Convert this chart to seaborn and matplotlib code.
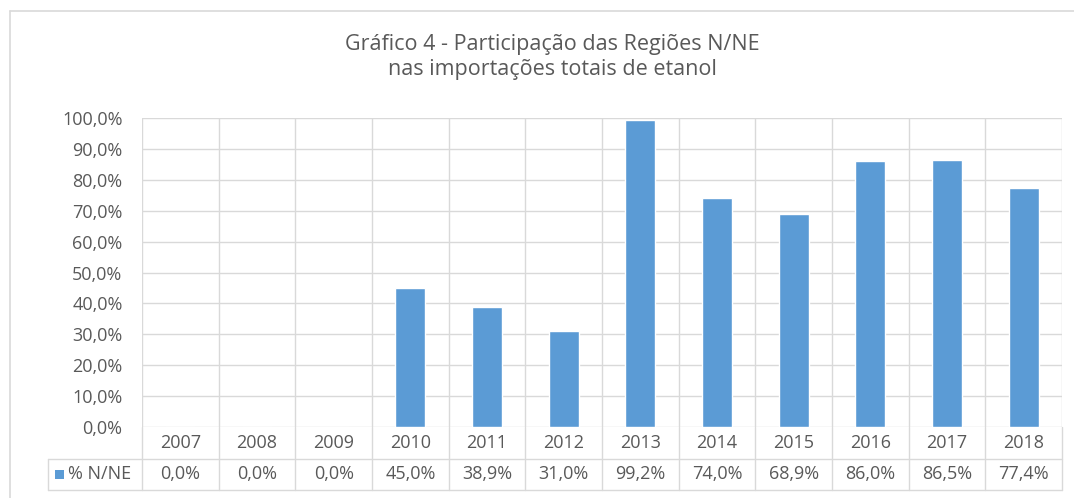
import numpy as np
import pandas as pd
import matplotlib
matplotlib.use("Agg")
import matplotlib.pyplot as plt
import seaborn as sns
from matplotlib.lines import Line2D
from matplotlib.patches import Rectangle

sns.set_style("white")
plt.rcParams['font.family'] = ['Open Sans', 'DejaVu Sans']

# data
years = ["2007", "2008", "2009", "2010", "2011", "2012",
         "2013", "2014", "2015", "2016", "2017", "2018"]
share = [0.0, 0.0, 0.0, 45.0, 38.9, 31.0, 99.2, 74.0, 68.9, 86.0, 86.5, 77.4]
series_name = "% N/NE"
title = "Gráfico 4 - Participação das Regiões N/NE\nnas importações totais de etanol"

bar_color = "#5B9BD5"
grid_color = "#D9D9D9"
text_color = "#595959"
fs = 13

W, H = 1074, 498
fig = plt.figure(figsize=(W / 100, H / 100), dpi=100)

# pixel layout
left, right = 142, 1062
top, zero = 118, 427
table_bottom = 490
legend_left = 48

ax = fig.add_axes([left / W, (H - zero) / H, (right - left) / W, (zero - top) / H])
df = pd.DataFrame({"year": years, "share": share})
sns.barplot(data=df, x="year", y="share", order=years, color=bar_color,
            width=0.39, saturation=1, ax=ax)
ax.set_xlim(-0.5, len(years) - 0.5)
ax.set_ylim(0, 100)
ax.set_yticks(np.arange(0, 101, 10))
ax.set_yticklabels([f"{v:.1f}%".replace(".", ",") for v in np.arange(0, 101, 10)],
                   fontsize=fs, color=text_color)
ax.tick_params(axis="y", length=0, pad=14)
ax.set_xticks([])
ax.set_xticks(np.arange(len(years) + 1) - 0.5, minor=True)
ax.tick_params(axis="x", which="minor", length=0)
ax.grid(axis="y", color=grid_color, lw=1)
ax.grid(axis="x", which="minor", color=grid_color, lw=1)
ax.set_axisbelow(True)
ax.set_xlabel("")
ax.set_ylabel("")
for s in ax.spines.values():
    s.set_visible(False)

# data table under the plot
cat_w = (right - left) / len(years)
row_h = (table_bottom - zero) / 2
tx = fig.add_axes([legend_left / W, (H - table_bottom) / H,
                   (right - legend_left) / W, (table_bottom - zero) / H])
x_leg = -0.5 - (left - legend_left) / cat_w
tx.set_xlim(x_leg, len(years) - 0.5)
tx.set_ylim(0, 2)
tx.axis("off")
tx.plot([x_leg, len(years) - 0.5], [0, 0], color=grid_color, lw=1, clip_on=False)
tx.plot([x_leg, len(years) - 0.5], [1, 1], color=grid_color, lw=1, clip_on=False)
tx.plot([x_leg, x_leg], [0, 1], color=grid_color, lw=1, clip_on=False)
for k in range(len(years) + 1):
    tx.plot([k - 0.5, k - 0.5], [0, 2], color=grid_color, lw=1, clip_on=False)
for i, (yr, v) in enumerate(zip(years, share)):
    tx.text(i, 1.5, yr, ha="center", va="center", fontsize=fs, color=text_color)
    tx.text(i, 0.5, f"{v:.1f}%".replace(".", ","), ha="center", va="center",
            fontsize=fs, color=text_color)
sq = 9
tx.add_patch(Rectangle((x_leg + 7 / cat_w, 0.5 - sq / 2 / row_h), sq / cat_w, sq / row_h,
                       color=bar_color, lw=0))
tx.text(x_leg + 20 / cat_w, 0.5, series_name, ha="left", va="center",
        fontsize=fs, color=text_color)

# chart outer frame
fig.add_artist(Line2D([10 / W, 1], [1 - 11 / H, 1 - 11 / H], color=grid_color, lw=1.2))
fig.add_artist(Line2D([10 / W, 10 / W], [0, 1 - 11 / H], color=grid_color, lw=1.2))

fig.text(552 / W, 1 - 57 / H, title, ha="center", va="center", fontsize=15.5,
         color=text_color, linespacing=1.3)

fig.savefig("out.png", dpi=100)
